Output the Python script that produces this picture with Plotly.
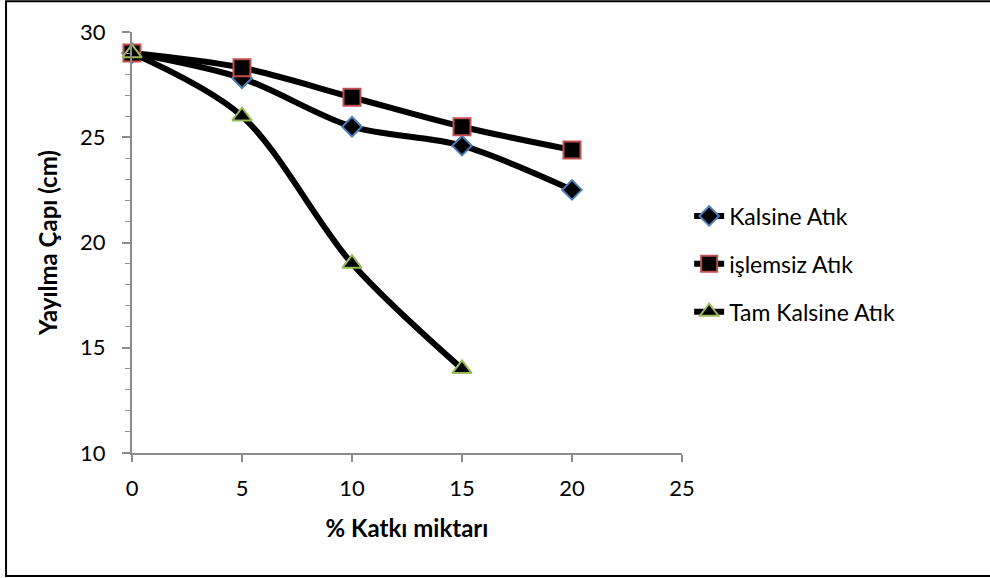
import plotly.graph_objects as go

# Additive amount (%) and spread diameter (cm)
katki = [0, 5, 10, 15, 20]
kalsine = [29.0, 27.8, 25.5, 24.6, 22.5]
islemsiz = [29.0, 28.3, 26.9, 25.5, 24.4]
tam_katki = [0, 5, 10, 15]
tam_kalsine = [29.0, 26.0, 19.0, 14.0]

FONT = "Lato, 'Open Sans', sans-serif"
AXIS_GRAY = "#8c8c8c"

series = [
    ("Kalsine Atık", katki, kalsine, "diamond", 15, "#4a7ebb"),
    ("işlemsiz Atık", katki, islemsiz, "square", 17, "#c0504d"),
    ("Tam Kalsine Atık", tam_katki, tam_kalsine, "triangle-up", 17, "#9bbb59"),
]

fig = go.Figure()
for i, (name, x, y, sym, size, edge) in enumerate(series):
    fig.add_trace(go.Scatter(
        x=x, y=y, name=name, mode="lines+markers",
        line=dict(color="black", width=6, shape="spline", smoothing=0.9),
        marker=dict(symbol=sym, size=size, color="black",
                    line=dict(color=edge, width=2)),
        legendgroup=f"g{i}", cliponaxis=False,
    ))

fig.update_layout(
    width=990, height=578,
    margin=dict(l=132, r=308, t=32, b=125),
    paper_bgcolor="white", plot_bgcolor="white",
    font=dict(family=FONT, size=22, color="black"),
    showlegend=True,
    legend=dict(x=1.013, y=0.614, xanchor="left", yanchor="top",
                tracegroupgap=15, font=dict(size=23),
                bgcolor="rgba(0,0,0,0)"),
    xaxis=dict(range=[0, 25], tickvals=[0, 5, 10, 15, 20, 25],
               showgrid=False, zeroline=False, showline=True,
               linecolor=AXIS_GRAY, linewidth=2, ticks="outside",
               ticklen=7, tickwidth=2, tickcolor=AXIS_GRAY,
               ticklabelstandoff=8,
               title=dict(text="<b>% Katkı miktarı</b>", standoff=20,
                          font=dict(size=24))),
    yaxis=dict(range=[10, 30], tickvals=[10, 15, 20, 25, 30],
               showgrid=False, zeroline=False, showline=True,
               linecolor=AXIS_GRAY, linewidth=2, ticks="outside",
               ticklen=8, tickwidth=2, tickcolor=AXIS_GRAY,
               ticklabelstandoff=12,
               minor=dict(dtick=1, ticks="outside", ticklen=5,
                          tickwidth=1, tickcolor=AXIS_GRAY),
               title=dict(text="<b>Yayılma Çapı (cm)</b>", standoff=16,
                          font=dict(size=24))),
    shapes=[dict(type="rect", xref="paper", yref="paper",
                 x0=-0.229, x1=1.58, y0=-0.292, y1=1.073,
                 line=dict(color="black", width=2), layer="below")],
)

fig.write_html("out.html")
